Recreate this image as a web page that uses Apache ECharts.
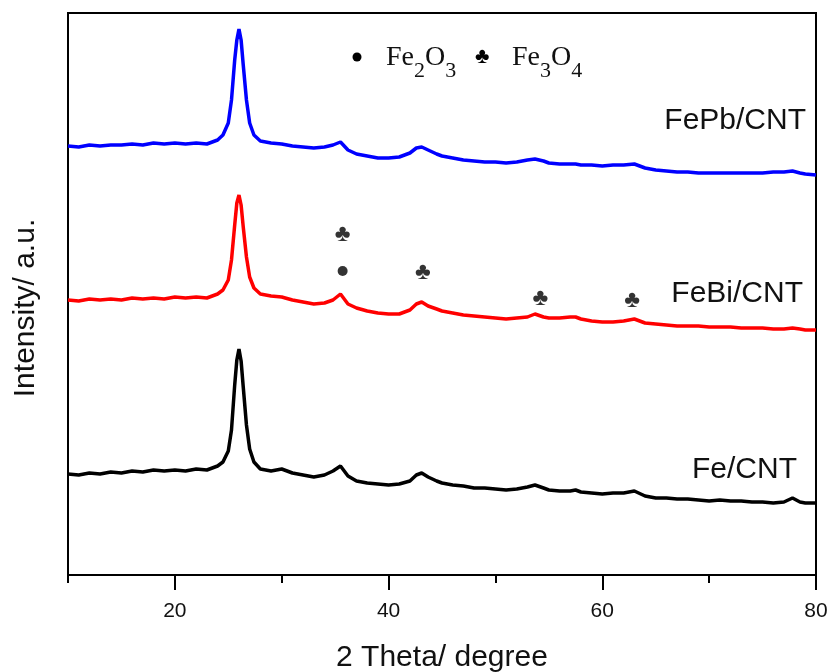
<!DOCTYPE html>
<html lang="en">
<head>
    <meta charset="UTF-8">
    <title>XRD</title>
    <script src="https://cdn.jsdelivr.net/npm/echarts@6/dist/echarts.min.js"></script>
    <style>
        body { margin: 0; background: #fff; }
        #main { width: 830px; height: 672px; }
    </style>
</head>
<body>
<div id="main"></div>
<script type="text/javascript">
    // 2 theta positions (degree)
    var theta = [
        10, 11, 12, 13, 14, 15, 16, 17, 18, 19, 20, 21, 22, 23, 24,
        24.5, 25, 25.3, 25.6, 25.8, 26, 26.2, 26.4, 26.7, 27, 27.4, 28,
        29, 30, 31, 32, 33, 34, 34.8, 35.5, 36.2, 37,
        38, 39, 40, 41, 42, 42.6, 43.1, 43.7, 44.5, 45,
        46, 47, 48, 49, 50, 51, 52, 53, 53.7, 54.5, 55,
        56, 57, 57.5, 58, 59, 60, 61, 62, 63, 64, 65, 66, 67, 68,
        69, 70, 71, 72, 73, 74, 75, 76, 77, 77.8, 78.5, 79, 80
    ];
    // intensities (a.u., already offset per curve)
    var fe = [
        101, 100, 102, 101, 103, 102, 104, 103, 105, 104, 105, 104, 106, 105, 109,
        113, 124, 145, 190, 215, 226, 214, 188, 150, 126, 113, 106,
        104, 106, 102, 100, 98, 100, 104, 109, 99, 94,
        92, 91, 90, 91, 94, 100, 102, 98, 94, 92,
        90, 89, 87, 87, 86, 85, 86, 88, 90, 87, 85,
        84, 84, 85, 83, 82, 81, 82, 82, 84, 79, 77, 77, 76, 76,
        75, 74, 75, 74, 74, 73, 73, 72, 73, 77, 73, 72, 72
    ];
    var febi = [
        275, 274, 276, 275, 276, 275, 277, 276, 277, 276, 278, 277, 278, 277, 281,
        285, 295, 315, 350, 372, 380, 370, 348, 318, 298, 287, 281,
        279, 278, 275, 273, 271, 272, 275, 281, 271, 267,
        264, 262, 261, 261, 265, 271, 273, 269, 266, 264,
        262, 260, 259, 258, 257, 256, 257, 258, 261, 258, 257,
        257, 258, 258, 256, 254, 253, 253, 254, 256, 252, 251, 250, 249, 249,
        249, 248, 248, 248, 247, 247, 247, 246, 246, 247, 246, 245, 245
    ];
    var fepb = [
        429, 428, 430, 429, 430, 430, 431, 430, 432, 431, 432, 431, 432, 431, 435,
        440, 452, 475, 515, 535, 546, 535, 510, 475, 452, 440, 434,
        432, 431, 429, 428, 427, 428, 430, 433, 425, 421,
        419, 417, 417, 418, 422, 427, 428, 425, 421, 419,
        417, 415, 414, 413, 413, 412, 413, 415, 416, 414, 412,
        411, 411, 411, 410, 410, 409, 410, 410, 411, 407, 405, 404, 403, 403,
        402, 402, 402, 402, 402, 402, 402, 403, 403, 404, 402, 401, 400
    ];
    // peak markers [2theta, height]
    var fe2o3Marks = [[35.7, 304]];
    var fe3o4Marks = [[35.7, 341], [43.2, 303], [54.2, 277], [62.8, 275]];
    var majorTicks = [20, 40, 60, 80];

    function pairs(ys) {
        return theta.map(function (t, i) { return [t, ys[i]]; });
    }

    var sans = "'Liberation Sans', Arial, sans-serif";
    var serif = "'Liberation Serif', 'Times New Roman', serif";
    var myChart = echarts.init(document.getElementById('main'));

    var gridRect = {left: 68, right: 14, top: 13, bottom: 97, outerBoundsMode: 'none'};
    var formulaRich = {
        m: {fontSize: 28, fontFamily: serif, lineHeight: 48, fill: '#111'},
        s: {fontSize: 22, fontFamily: serif, lineHeight: 22, verticalAlign: 'bottom', fill: '#111'}
    };

    var option = {
        animation: false,
        backgroundColor: '#fff',
        grid: [
            Object.assign({show: true, borderColor: '#000', borderWidth: 2}, gridRect),
            // second grid on the same box, only for the short ticks at 10, 30, 50, 70
            Object.assign({show: false}, gridRect)
        ],
        xAxis: [{
            type: 'value', min: 10, max: 80, interval: 10,
            axisLine: {lineStyle: {color: '#000', width: 2}},
            axisTick: {show: true, length: 15, lineStyle: {color: '#000', width: 2}, customValues: majorTicks},
            axisLabel: {customValues: majorTicks, fontSize: 21, color: '#111', margin: 26, fontFamily: sans},
            splitLine: {show: false},
            name: '2 Theta/ degree', nameLocation: 'middle', nameGap: 68,
            nameTextStyle: {fontSize: 30, color: '#111', fontFamily: sans}
        }, {
            gridIndex: 1, type: 'value', min: 10, max: 80, interval: 20,
            axisLine: {show: false},
            axisTick: {show: true, length: 8, lineStyle: {color: '#000', width: 2}},
            axisLabel: {show: false},
            splitLine: {show: false}
        }],
        yAxis: [{
            type: 'value', min: 0, max: 562,
            axisLine: {show: true, lineStyle: {color: '#000', width: 2}},
            axisTick: {show: false},
            axisLabel: {show: false},
            splitLine: {show: false}
        }, {
            gridIndex: 1, type: 'value', min: 0, max: 562, show: false
        }],
        series: [
            {name: 'Fe/CNT', type: 'line', data: pairs(fe), symbol: 'none',
             lineStyle: {color: '#000', width: 3.5}},
            {name: 'FeBi/CNT', type: 'line', data: pairs(febi), symbol: 'none',
             lineStyle: {color: '#ff0000', width: 3.5}},
            {name: 'FePb/CNT', type: 'line', data: pairs(fepb), symbol: 'none',
             lineStyle: {color: '#0000ff', width: 3.5}},
            {name: 'Fe2O3', type: 'scatter', data: fe2o3Marks, symbol: 'circle', symbolSize: 10,
             itemStyle: {color: '#000'}},
            {name: 'Fe3O4', type: 'scatter', data: fe3o4Marks, symbolSize: 20,
             itemStyle: {color: 'rgba(0,0,0,0)'},
             label: {show: true, position: 'inside', formatter: '\u2663', fontSize: 24, color: '#000'}}
        ],
        graphic: [
            {type: 'text', x: 26, y: 308, rotation: Math.PI / 2,
             style: {text: 'Intensity/ a.u.', fontSize: 30, fontFamily: sans, fill: '#111',
                     align: 'center', verticalAlign: 'middle'}},
            {type: 'circle', shape: {cx: 357, cy: 57, r: 4.5}, style: {fill: '#000'}},
            {type: 'text', left: 386, top: 44, style: {text: '{m|Fe}{s|2}{m|O}{s|3}', rich: formulaRich}},
            {type: 'text', left: 475, top: 46, style: {text: '\u2663', fontSize: 22, fill: '#000'}},
            {type: 'text', left: 512, top: 44, style: {text: '{m|Fe}{s|3}{m|O}{s|4}', rich: formulaRich}},
            {type: 'text', right: 24, top: 106, style: {text: 'FePb/CNT', fontSize: 30, fontFamily: sans, fill: '#111'}},
            {type: 'text', right: 27, top: 279, style: {text: 'FeBi/CNT', fontSize: 30, fontFamily: sans, fill: '#111'}},
            {type: 'text', right: 33, top: 455, style: {text: 'Fe/CNT', fontSize: 30, fontFamily: sans, fill: '#111'}}
        ]
    };
    myChart.setOption(option);
</script>
</body>
</html>
